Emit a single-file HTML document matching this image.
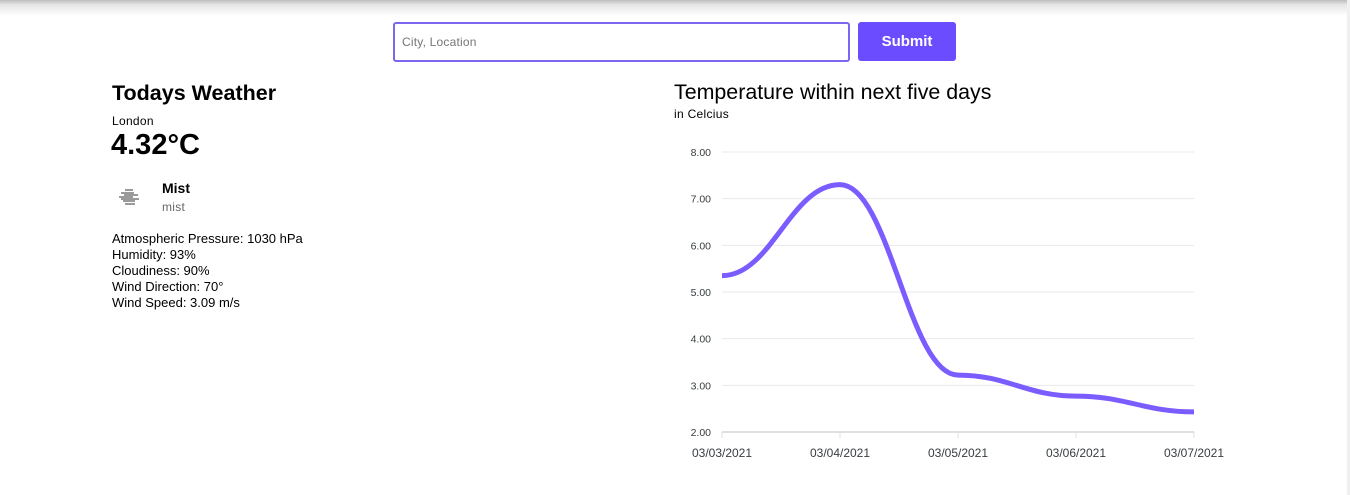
<!DOCTYPE html>
<html><head><meta charset="utf-8">
<style>
html,body{margin:0;padding:0;width:1350px;height:495px;overflow:hidden;background:#fff;font-family:"Liberation Sans",Arial,sans-serif;color:#000;position:relative}
.shadow{position:absolute;left:0;top:0;width:1350px;height:16px;background:linear-gradient(#bdbdbd,#e6e6e6 30%,#fff)}
.rstrip{position:absolute;right:0;top:0;width:3px;height:495px;background:#f0f0f0}
.input{position:absolute;left:393px;top:22px;height:36px;border:2px solid #7b68ee;border-radius:3px;font-size:12px;color:#757575;line-height:36px;padding-left:7px;width:446px;letter-spacing:0.2px}
.btn{position:absolute;left:858px;top:22px;width:98px;height:39px;background:#6c4cff;border-radius:3px;color:#fff;font-weight:bold;font-size:15px;text-align:center;line-height:39px}
.abs{position:absolute;white-space:nowrap}
.icon div{position:absolute;height:2px;background:#9a9a9a}
</style></head><body>
<div class="shadow"></div>
<div class="rstrip"></div>
<div class="input">City, Location</div>
<div class="btn">Submit</div>

<div class="abs" style="left:112px;top:81px;font-size:21.5px;font-weight:bold">Todays Weather</div>
<div class="abs" style="left:112px;top:114px;font-size:12px;letter-spacing:0.3px">London</div>
<div class="abs" style="left:111px;top:129px;font-size:29px;font-weight:bold">4.32°C</div>
<div class="abs icon" style="left:118px;top:185px;width:30px;height:25px">
<div style="left:7px;top:4px;width:8px"></div>
<div style="left:3px;top:7px;width:13px"></div>
<div style="left:6px;top:9px;width:14px"></div>
<div style="left:1px;top:11px;width:14px"></div>
<div style="left:3px;top:13px;width:18px"></div>
<div style="left:5px;top:15px;width:12px"></div>
<div style="left:7px;top:18px;width:10px"></div>
</div>
<div class="abs" style="left:162px;top:180px;font-size:14px;font-weight:bold">Mist</div>
<div class="abs" style="left:162px;top:200px;font-size:12px;color:#666;letter-spacing:0.3px">mist</div>
<div class="abs" style="left:112px;top:231px;font-size:13px;line-height:16px">
<div>Atmospheric Pressure: 1030 hPa</div>
<div>Humidity: 93%</div>
<div>Cloudiness: 90%</div>
<div>Wind Direction: 70°</div>
<div>Wind Speed: 3.09 m/s</div>
</div>

<div class="abs" style="left:674px;top:80px;font-size:21.4px">Temperature within next five days</div>
<div class="abs" style="left:674px;top:107px;font-size:12px;letter-spacing:0.3px">in Celcius</div>

<svg id="chart" width="1350" height="495" style="position:absolute;left:0;top:0"></svg>
<script>
const categories=["03/03/2021","03/04/2021","03/05/2021","03/06/2021","03/07/2021"];
const temps=[5.35,7.30,3.22,2.77,2.43];
const yTicks=[2,3,4,5,6,7,8];
const yTickLabels=["2.00","3.00","4.00","5.00","6.00","7.00","8.00"];

const svg=document.getElementById('chart');
const NS='http://www.w3.org/2000/svg';
const X0=722,X1=1194,Y0=432,Y1=152,YMIN=2,YMAX=8;
const xs=i=>X0+(X1-X0)*i/(categories.length-1);
const ys=v=>Y0-(v-YMIN)/(YMAX-YMIN)*(Y0-Y1);
function mk(t,a,p){const e=document.createElementNS(NS,t);for(const k in a)e.setAttribute(k,a[k]);(p||svg).appendChild(e);return e;}
yTicks.forEach((v,i)=>{
  const g=mk('line',{x1:X0,x2:X1,y1:ys(v),y2:ys(v),stroke:i===0?'#e0e0e0':'#e8e8e8','stroke-width':i===0?2:1});
  
  
  const t=mk('text',{x:711,y:ys(v)+4,'text-anchor':'end','font-size':10.5,fill:'#373d3f','font-family':'Liberation Sans, sans-serif'});
  t.textContent=yTickLabels[i];
  
  
});
categories.forEach((c,i)=>{
  const tk=mk('line',{x1:xs(i),x2:xs(i),y1:Y0,y2:Y0+6,stroke:'#e0e0e0','stroke-width':1});
  
  
  const t=mk('text',{x:xs(i),y:457,'text-anchor':'middle','font-size':12,fill:'#373d3f','font-family':'Liberation Sans, sans-serif'});
  t.textContent=c;
  
  
});
// smooth with horizontal tangents at each point
const P=temps.map((v,i)=>[xs(i),ys(v)]);
let path='M'+P[0][0]+','+P[0][1];
for(let i=0;i<P.length-1;i++){const h=(P[i+1][0]-P[i][0])*0.42;
path+=` C${P[i][0]+h},${P[i][1]} ${P[i+1][0]-h},${P[i+1][1]} ${P[i+1][0]},${P[i+1][1]}`;}
const line=mk('path',{d:path,fill:'none',stroke:'#7b5cff','stroke-width':5,'stroke-linecap':'butt'});


</script>
</body></html>
